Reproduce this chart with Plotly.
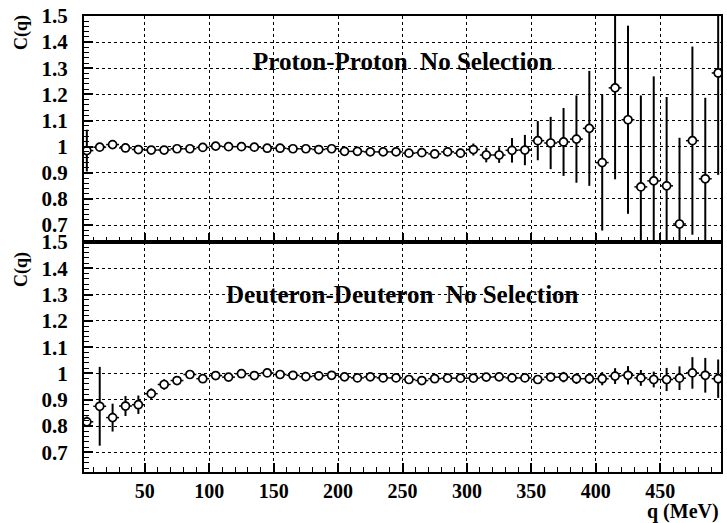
import plotly.graph_objects as go

# ---------------- data ----------------
q = [5 + 10 * i for i in range(50)]

pp_c = [0.985, 0.998, 1.008, 0.995, 0.989, 0.987, 0.987, 0.992, 0.992, 0.997,
        1.002, 1.000, 1.000, 0.998, 0.994, 0.994, 0.992, 0.992, 0.989, 0.992,
        0.982, 0.982, 0.980, 0.980, 0.980, 0.975, 0.977, 0.972, 0.980, 0.975,
        0.989, 0.968, 0.968, 0.986, 0.987, 1.023, 1.014, 1.018, 1.029, 1.070,
        0.939, 1.225, 1.103, 0.846, 0.869, 0.850, 0.704, 1.023, 0.877, 1.282]
pp_err = [0.080, 0.015, 0.010, 0.006, 0.005, 0.005, 0.005, 0.005, 0.005, 0.005,
          0.005, 0.005, 0.005, 0.005, 0.005, 0.005, 0.005, 0.006, 0.006, 0.006,
          0.007, 0.007, 0.008, 0.008, 0.009, 0.010, 0.011, 0.012, 0.014, 0.018,
          0.023, 0.028, 0.030, 0.047, 0.058, 0.075, 0.100, 0.130, 0.167, 0.220,
          0.260, 0.350, 0.360, 0.350, 0.400, 0.340, 0.330, 0.360, 0.310, 0.390]

dd_c = [0.816, 0.875, 0.832, 0.876, 0.881, 0.923, 0.958, 0.973, 0.996, 0.980,
        0.992, 0.986, 0.999, 0.992, 1.002, 0.996, 0.993, 0.988, 0.991, 0.993,
        0.987, 0.983, 0.987, 0.983, 0.983, 0.977, 0.973, 0.980, 0.982, 0.982,
        0.982, 0.986, 0.987, 0.983, 0.983, 0.977, 0.986, 0.986, 0.980, 0.980,
        0.980, 0.990, 0.993, 0.983, 0.977, 0.977, 0.982, 1.002, 0.993, 0.980]
dd_err = [0.020, 0.150, 0.053, 0.038, 0.035, 0.020, 0.020, 0.015, 0.012, 0.010,
          0.008, 0.007, 0.006, 0.006, 0.005, 0.005, 0.005, 0.005, 0.005, 0.005,
          0.005, 0.005, 0.006, 0.006, 0.006, 0.006, 0.007, 0.007, 0.008, 0.008,
          0.009, 0.010, 0.010, 0.011, 0.012, 0.015, 0.015, 0.020, 0.020, 0.020,
          0.025, 0.030, 0.035, 0.030, 0.030, 0.044, 0.045, 0.060, 0.066, 0.073]

x_half_bin = [5] * 50

x_ticks = [50, 100, 150, 200, 250, 300, 350, 400, 450]
x_ticklabels = ["50", "100", "150", "200", "250", "300", "350", "400", "450"]
y_ticks = [0.7, 0.8, 0.9, 1.0, 1.1, 1.2, 1.3, 1.4, 1.5]
y_ticklabels = ["0.7", "0.8", "0.9", "1", "1.1", "1.2", "1.3", "1.4", "1.5"]

titles = ["Proton-Proton&nbsp;&nbsp;No Selection", "Deuteron-Deuteron&nbsp;&nbsp;No Selection"]

# ---------------- figure ----------------
FONT = "Liberation Serif"
ytickfont = dict(family=FONT, size=21, color="black", weight="bold")
xtickfont = dict(family=FONT, size=20, color="black", weight="bold")

fig = go.Figure()

def add_series(y, err, xa, ya):
    fig.add_trace(go.Scatter(
        x=q, y=y, xaxis=xa, yaxis=ya, mode="markers",
        marker=dict(symbol="circle", size=8, color="white",
                    line=dict(width=1.7, color="black")),
        error_y=dict(type="data", array=err, visible=True, color="black",
                     thickness=2, width=0),
        error_x=dict(type="data", array=x_half_bin, visible=True, color="black",
                     thickness=1.5, width=0),
        showlegend=False, cliponaxis=True,
    ))

add_series(pp_c, pp_err, "x", "y")
add_series(dd_c, dd_err, "x2", "y2")

split = 234 / 464

xcommon = dict(
    range=[2.8, 497.2], tickmode="array", tickvals=x_ticks,
    ticks="inside", ticklen=9, tickwidth=1.5, tickcolor="black",
    minor=dict(ticks="inside", ticklen=5, tickwidth=1.2, tickcolor="black",
               tick0=0, dtick=10, showgrid=False),
    showline=True, linecolor="black", linewidth=2, mirror=True,
    showgrid=True, gridcolor="black", griddash="dot", gridwidth=1,
    zeroline=False, tickfont=xtickfont,
)
ycommon = dict(
    tickmode="array", tickvals=y_ticks, ticktext=y_ticklabels,
    ticks="inside", ticklen=9, tickwidth=1.5, tickcolor="black",
    minor=dict(ticks="inside", ticklen=5, tickwidth=1.2, tickcolor="black",
               tick0=0.5, dtick=0.02, showgrid=False),
    showline=True, linecolor="black", linewidth=2, mirror=True,
    showgrid=True, gridcolor="black", griddash="dot", gridwidth=1,
    zeroline=False, tickfont=ytickfont, ticklabelstandoff=10,
)

fig.update_layout(
    width=727, height=523,
    margin=dict(l=84, r=4, t=8, b=51),
    paper_bgcolor="white", plot_bgcolor="white",
    xaxis=dict(**xcommon, domain=[0, 1], anchor="y", showticklabels=False),
    yaxis=dict(**ycommon, domain=[split, 1], anchor="x", range=[0.635, 1.5]),
    xaxis2=dict(**xcommon, domain=[0, 1], anchor="y2", showticklabels=True,
                ticktext=x_ticklabels, ticklabelstandoff=0),
    yaxis2=dict(**ycommon, domain=[0, split], anchor="x2", range=[0.625, 1.5]),
)

label_font = dict(family=FONT, size=18, color="black", weight="bold")
annots = [
    dict(text=titles[0], x=250, y=1.325, xref="x", yref="y", showarrow=False,
         font=dict(family=FONT, size=25, color="black", weight="bold")),
    dict(text=titles[1], x=250, y=1.3, xref="x2", yref="y2", showarrow=False,
         font=dict(family=FONT, size=25, color="black", weight="bold")),
    dict(text="C(q)", textangle=-90, x=0, y=1, xref="paper", yref="paper",
         xshift=-63, yshift=-17, showarrow=False, xanchor="center", yanchor="middle",
         font=label_font),
    dict(text="C(q)", textangle=-90, x=0, y=split, xref="paper", yref="paper",
         xshift=-63, yshift=-28, showarrow=False, xanchor="center", yanchor="middle",
         font=label_font),
    dict(text="q (MeV)", x=1, y=0, xref="paper", yref="paper", xanchor="right",
         yanchor="middle", yshift=-39, xshift=0, showarrow=False,
         font=dict(family=FONT, size=20, color="black", weight="bold")),
]
fig.update_layout(annotations=annots)

fig.write_html("out.html", config={"displayModeBar": False},
               post_script="document.body.style.margin='0';")
